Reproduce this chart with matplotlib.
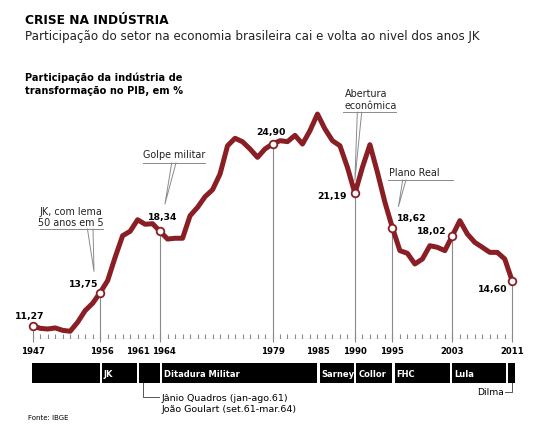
import matplotlib
matplotlib.use("Agg")
import matplotlib.pyplot as plt

# Participação da indústria de transformação no PIB (%), 1947-2011
years = list(range(1947, 2012))
industry_share = [
    11.27, 11.07, 11.02, 11.10, 10.92, 10.85, 11.53, 12.40, 12.95, 13.75,
    14.65, 16.40, 18.02, 18.35, 19.22, 18.88, 18.92, 18.34, 17.77, 17.83,
    17.83, 19.52, 20.15, 20.95, 21.47, 22.65, 24.77, 25.33, 25.07, 24.53,
    23.90, 24.53, 24.90, 25.15, 25.08, 25.55, 24.90, 25.90, 27.15, 26.03,
    25.15, 24.77, 23.15, 21.19, 23.15, 24.85, 22.78, 20.53, 18.62, 16.90,
    16.70, 15.90, 16.27, 17.27, 17.15, 16.90, 18.02, 19.15, 18.15, 17.52,
    17.15, 16.77, 16.77, 16.27, 14.60,
]

marked_years = [1947, 1956, 1964, 1979, 1990, 1995, 2003, 2011]
axis_years = [1947, 1956, 1961, 1964, 1979, 1985, 1990, 1995, 2003, 2011]

period_names = ["", "JK", "", "Ditadura Militar", "Sarney", "Collor", "FHC", "Lula", ""]
period_edges = [1947, 1956.1, 1961.05, 1964.1, 1985.15, 1990.05, 1995.15, 2002.8, 2010.25, 2011.4]

RED = "#8a1e25"
GRAY = "#8a8a8a"
W, H = 557, 431

fig = plt.figure(figsize=(W / 100, H / 100), dpi=100)

# titles
fig.text(25 / W, 1 - 20 / H, "CRISE NA INDÚSTRIA", fontsize=8.8, fontweight="bold", va="center")
fig.text(25 / W, 1 - 36.5 / H,
         "Participação do setor na economia brasileira cai e volta ao nivel dos anos JK",
         fontsize=8.6, va="center", color="#222222")
fig.text(25 / W, 1 - 84.5 / H, "Participação da indústria de\ntransformação no PIB, em %",
         fontsize=7.1, fontweight="bold", va="center", linespacing=1.35)

# main chart
ax = fig.add_axes([32.7 / W, 91 / H, 479.6 / W, 280 / H])
ax.set_xlim(1947, 2011)
base = 10.27
ax.set_ylim(base, 31.28)
ax.axis("off")

ax.hlines(base, 1947, 2011, color=GRAY, lw=0.8)
ax.vlines(years, base, base + 0.4, color=GRAY, lw=0.8)

share = dict(zip(years, industry_share))
for yr in marked_years:
    ax.vlines(yr, base - 0.2, share[yr], color=GRAY, lw=0.8, clip_on=False)

ax.plot(years, industry_share, color=RED, lw=3.6, solid_joinstyle="round",
        solid_capstyle="round", zorder=3, clip_on=False)
ax.plot(marked_years, [share[y] for y in marked_years], "o", ms=5.5, mfc="white",
        mec=RED, mew=1.3, zorder=4, clip_on=False)

# value labels: (dx, dy, ha) in points
label_pos = {
    1947: (-2, 7.2, "center"), 1956: (-1.2, 6.7, "right"), 1964: (1.7, 11, "center"),
    1979: (-1, 8.9, "center"), 1990: (-5.8, -1.2, "right"), 1995: (3, 7, "left"),
    2003: (-4, 3.5, "right"), 2011: (-3.6, -5.5, "right"),
}
for yr in marked_years:
    dx, dy, ha = label_pos[yr]
    ax.annotate(f"{share[yr]:.2f}".replace(".", ","), (yr, share[yr]), xytext=(dx, dy),
                textcoords="offset points", ha=ha, va="center", fontsize=6.7,
                fontweight="bold", zorder=5)

# year labels
year_dx = {1956: 1, 1964: 3}
for yr in axis_years:
    ax.annotate(str(yr), (yr, base), xytext=(year_dx.get(yr, 0), -8.4),
                textcoords="offset points", ha="center", va="center",
                fontsize=6.1, fontweight="bold")

# callouts
def callout(ul, ur, uy, v1, v2, tip):
    ax.plot([ul, ur], [uy, uy], color=GRAY, lw=0.7, clip_on=False)
    ax.plot([v1, tip[0], v2], [uy, tip[1], uy], color=GRAY, lw=0.7, clip_on=False)

callout(1947.97, 1956.42, 18.52, 1954.31, 1955.05, (1955.18, 15.34))
ax.text(1952.1, 19.47, "JK, com lema\n50 anos em 5", ha="center", va="center",
        fontsize=6.9, linespacing=1.2, color="#222222")

callout(1961.72, 1970.0, 23.48, 1965.55, 1966.12, (1964.65, 20.40))
ax.text(1965.85, 24.15, "Golpe militar", ha="center", va="center", fontsize=6.9, color="#222222")

callout(1988.41, 1995.48, 27.28, 1990.32, 1990.9, (1989.99, 22.16))
ax.text(1988.67, 28.28, "Abertura\neconômica", ha="left", va="center", fontsize=6.9,
        linespacing=1.2, color="#222222", clip_on=False)

callout(1994.41, 2003.08, 22.20, 1996.37, 1996.81, (1995.81, 20.21))
ax.text(1994.61, 22.78, "Plano Real", ha="left", va="center", fontsize=6.9, color="#222222")

# timeline of governments
ax2 = fig.add_axes([32.7 / W, 46.7 / H, 479.6 / W, 20.3 / H])
ax2.set_xlim(1947, 2011)
ax2.set_ylim(0, 1)
ax2.axis("off")
for i, name in enumerate(period_names):
    left = period_edges[i] + (0.15 if i > 0 else -0.05)
    right = period_edges[i + 1] - (0.15 if i < len(period_names) - 1 else 0)
    ax2.barh(0.5, right - left, left=left, height=1, color="black", clip_on=False)
    if name:
        ax2.text(left + 0.25, 0.5, name, color="white", fontsize=6, fontweight="bold",
                 va="center", ha="left")

ax2.plot([1961.77, 1961.77, 1963.9], [0, -0.66, -0.66], color="#555555", lw=0.7, clip_on=False)
ax2.text(1964.22, -0.69, "Jânio Quadros (jan-ago.61)", fontsize=6.8, va="center", ha="left")
ax2.text(1964.22, -1.25, "João Goulart (set.61-mar.64)", fontsize=6.8, va="center", ha="left")

ax2.plot([2011.0, 2011.0, 2010.0], [0, -0.41, -0.41], color="#555555", lw=0.7, clip_on=False)
ax2.text(2009.86, -0.41, "Dilma", fontsize=6.6, va="center", ha="right")

fig.text(28 / W, 1 - 417.7 / H, "Fonte: IBGE", fontsize=5, va="center")

fig.savefig("out.png", dpi=100)
